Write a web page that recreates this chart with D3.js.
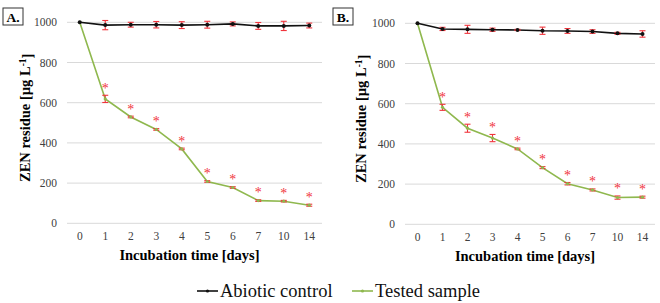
<!DOCTYPE html>
<html>
<head>
<meta charset="utf-8">
<script src="https://cdn.jsdelivr.net/npm/d3@7"></script>
<style>
  body { margin: 0; background: #fff; }
  svg { display: block; }
  svg text { font-family: "Liberation Serif", "Times New Roman", Times, "DejaVu Serif", serif; }
</style>
</head>
<body>
<div id="chart"></div>
<script>
// categories + tick labels
const days = ["0", "1", "2", "3", "4", "5", "6", "7", "10", "14"];
const yTicks = [0, 200, 400, 600, 800, 1000];

// panel A
const abioticA = [1000, 986, 988, 988, 986, 988, 992, 982, 982, 984];
const abioticErrA = [0, 23, 12, 16, 17, 17, 10, 17, 23, 12];
const testedA = [1000, 619, 529, 467, 370, 208, 178, 113, 110, 90];
const testedErrA = [0, 18, 4, 4, 4, 4, 4, 4, 4, 5];

// panel B
const abioticB = [1000, 972, 970, 968, 967, 963, 962, 959, 950, 947];
const abioticErrB = [0, 8, 20, 8, 3, 18, 12, 9, 5, 16];
const testedB = [1000, 582, 478, 429, 375, 282, 202, 171, 133, 135];
const testedErrB = [0, 15, 20, 18, 4, 5, 6, 5, 8, 5];

// significant difference marks (asterisks)
const signif = [false, true, true, true, true, true, true, true, true, true];

const W = 660, H = 303;
const green = "#8fb84e", red = "#f0343c";

const svg = d3.select("#chart").append("svg")
    .attr("width", W)
    .attr("height", H);

function drawPanel(p) {
  const x = d3.scaleBand().domain(days).range(p.xr);
  const y = d3.scaleLinear().domain([0, 1000]).range(p.yr);
  const cx = d => x(d) + x.bandwidth() / 2;
  const g = svg.append("g");

  // gridlines
  g.append("g").selectAll("line").data(yTicks).join("line")
      .attr("x1", p.xr[0]).attr("x2", p.xr[1])
      .attr("y1", d => y(d)).attr("y2", d => y(d))
      .attr("stroke", "#d9d9d9").attr("stroke-width", 1);

  // y axis labels
  const ya = g.append("g")
      .attr("transform", `translate(${p.xr[0] - 10},0)`)
      .call(d3.axisLeft(y).tickValues(yTicks).tickFormat(d3.format("d")).tickSize(0).tickPadding(0));
  ya.attr("font-family", null).attr("font-size", null);
  ya.select(".domain").remove();
  ya.selectAll("text").style("font-size", "11.5px").attr("fill", "#404040");

  // x axis labels
  const xa = g.append("g")
      .attr("transform", `translate(0,${p.yr[0] + 9})`)
      .call(d3.axisBottom(x).tickSize(0).tickPadding(0));
  xa.attr("font-family", null).attr("font-size", null);
  xa.select(".domain").remove();
  xa.selectAll("text").style("font-size", "11.5px").attr("fill", "#404040");

  // axis titles
  g.append("text")
      .attr("x", (p.xr[0] + p.xr[1]) / 2 - 5).attr("y", p.yr[0] + 37)
      .attr("text-anchor", "middle")
      .style("font-size", "14.5px").style("font-weight", "bold")
      .text("Incubation time [days]");

  const yt = g.append("text")
      .attr("transform", `translate(${p.titleX},${(p.yr[0] + p.yr[1]) / 2 - 5}) rotate(-90)`)
      .attr("text-anchor", "middle").attr("dy", "0.35em")
      .style("font-size", "14.5px").style("font-weight", "bold");
  yt.append("tspan").text("ZEN residue [µg L");
  yt.append("tspan").attr("dy", "-0.45em").style("font-size", "9.5px").text("-1");
  yt.append("tspan").attr("dy", "0.45em").text("]");

  // series
  const series = [
    {vals: p.tested, err: p.testedErr, color: green, r: 1.6},
    {vals: p.abiotic, err: p.abioticErr, color: "#111", r: 2}
  ];
  series.forEach(s => {
    const pts = days.map((d, i) => ({d, v: s.vals[i], e: s.err[i]}));
    g.append("path").datum(pts)
        .attr("fill", "none").attr("stroke", s.color).attr("stroke-width", 1.6)
        .attr("d", d3.line().x(q => cx(q.d)).y(q => y(q.v)));
    const eb = g.append("g").attr("stroke", red).attr("stroke-width", 1.1);
    const withErr = pts.filter(q => q.e > 0);
    eb.selectAll(".v").data(withErr).join("line")
        .attr("x1", q => cx(q.d)).attr("x2", q => cx(q.d))
        .attr("y1", q => y(q.v - q.e)).attr("y2", q => y(q.v + q.e));
    eb.selectAll(".t").data(withErr.flatMap(q => [q.v - q.e, q.v + q.e].map(v => ({d: q.d, v})))).join("line")
        .attr("x1", q => cx(q.d) - 3).attr("x2", q => cx(q.d) + 3)
        .attr("y1", q => y(q.v)).attr("y2", q => y(q.v));
    g.append("g").selectAll("circle").data(pts).join("circle")
        .attr("cx", q => cx(q.d)).attr("cy", q => y(q.v))
        .attr("r", s.r).attr("fill", s.color);
  });

  // asterisks
  g.append("g").selectAll("text").data(days.map((d, i) => ({d, i})).filter(q => signif[q.i])).join("text")
      .attr("x", q => cx(q.d))
      .attr("y", q => y(p.tested[q.i] + p.testedErr[q.i]) - 2.5)
      .attr("text-anchor", "middle")
      .attr("fill", red)
      .style("font-size", "14px")
      .text("*");

  // panel label
  g.append("rect")
      .attr("x", p.labelX).attr("y", 8).attr("width", 20).attr("height", 17)
      .attr("fill", "#fff").attr("stroke", "#333").attr("stroke-width", 1);
  g.append("text")
      .attr("x", p.labelX + 10).attr("y", 21.5)
      .attr("text-anchor", "middle")
      .style("font-size", "13.5px").style("font-weight", "bold")
      .text(p.label);
}

drawPanel({label: "A.", labelX: 3, titleX: 25, xr: [67, 322], yr: [223.3, 22.3],
  abiotic: abioticA, abioticErr: abioticErrA, tested: testedA, testedErr: testedErrA});
drawPanel({label: "B.", labelX: 333, titleX: 361, xr: [405, 655], yr: [224.3, 23.3],
  abiotic: abioticB, abioticErr: abioticErrB, tested: testedB, testedErr: testedErrB});

// legend
const legend = [
  {name: "Abiotic control", color: "#111", x: 197},
  {name: "Tested sample", color: green, x: 352}
];
const lg = svg.append("g").selectAll("g").data(legend).join("g")
    .attr("transform", d => `translate(${d.x},291)`);
lg.append("line").attr("x1", 0).attr("x2", 21).attr("stroke", d => d.color).attr("stroke-width", 1.6);
lg.append("circle").attr("cx", 10.5).attr("r", 1.6).attr("fill", d => d.color);
lg.append("text").attr("x", 23).attr("dy", "0.35em")
    .style("font-size", "18.5px").attr("fill", "#111")
    .text(d => d.name);
</script>
</body>
</html>
